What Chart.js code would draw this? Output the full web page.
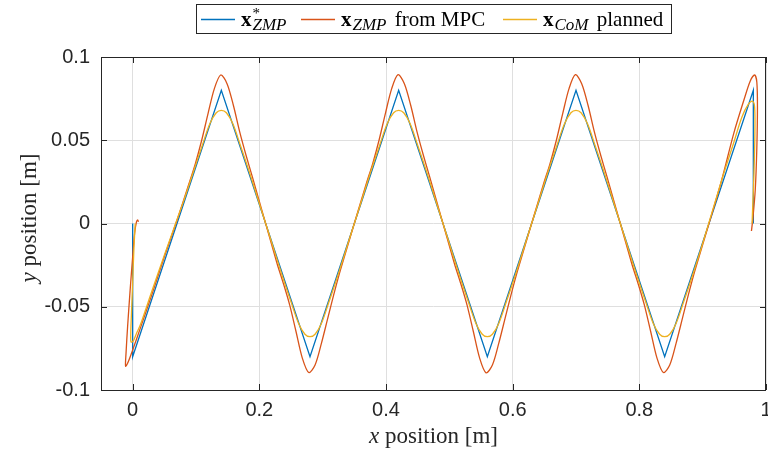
<!DOCTYPE html>
<html>
<head>
<meta charset="utf-8">
<script src="https://cdn.jsdelivr.net/npm/chart.js@4"></script>
<style>
  html, body { margin: 0; background: #fff; }
  canvas { display: block; }
</style>
</head>
<body>
<canvas id="zmpChart" width="768" height="455"></canvas>
<script>
// reference ZMP: footstep centres, start and end at the mid line
const refX = [0, 0, 0.14, 0.28, 0.42, 0.56, 0.70, 0.84, 0.98, 0.98];
const refY = [0, -0.08, 0.08, -0.08, 0.08, -0.08, 0.08, -0.08, 0.08, 0];

// ZMP coming out of the MPC
const mpcX = [
  0.009, 0.008, 0.006, 0.003, 0.0, -0.004, -0.008, -0.0105, -0.0112, -0.008, 0.0, 0.012, 0.03, 0.05, 0.07,
  0.089, 0.099, 0.109, 0.119, 0.129, 0.139, 0.149, 0.159, 0.169, 0.179, 0.189,
  0.228, 0.238, 0.248, 0.258, 0.268, 0.278, 0.288, 0.298, 0.308, 0.318, 0.328,
  0.369, 0.379, 0.389, 0.399, 0.409, 0.419, 0.429, 0.439, 0.449, 0.459, 0.469,
  0.508, 0.518, 0.528, 0.538, 0.548, 0.558, 0.568, 0.578, 0.588, 0.598, 0.608,
  0.649, 0.659, 0.669, 0.679, 0.689, 0.699, 0.709, 0.719, 0.729, 0.739, 0.749,
  0.788, 0.798, 0.808, 0.818, 0.828, 0.838, 0.848, 0.858, 0.868, 0.878, 0.888,
  0.91, 0.93, 0.949, 0.965, 0.975, 0.982, 0.9855, 0.9865, 0.9855, 0.983, 0.979, 0.977
];
const mpcY = [
  0.001, 0.0022, 0.001, -0.006, -0.02, -0.04, -0.062, -0.078, -0.0857, -0.084, -0.076, -0.063, -0.043, -0.020, 0.002,
  0.024, 0.036, 0.050, 0.066, 0.081, 0.0892, 0.084, 0.071, 0.055, 0.041, 0.028,
  -0.024, -0.036, -0.049, -0.065, -0.081, -0.0895, -0.085, -0.072, -0.057, -0.042, -0.028,
  0.024, 0.036, 0.050, 0.066, 0.081, 0.0894, 0.084, 0.071, 0.055, 0.041, 0.028,
  -0.024, -0.036, -0.049, -0.065, -0.081, -0.0897, -0.085, -0.072, -0.057, -0.042, -0.028,
  0.024, 0.036, 0.050, 0.066, 0.081, 0.0894, 0.084, 0.071, 0.055, 0.041, 0.028,
  -0.024, -0.036, -0.049, -0.065, -0.081, -0.0895, -0.085, -0.072, -0.057, -0.042, -0.028,
  0.0, 0.026, 0.054, 0.074, 0.0855, 0.0892, 0.085, 0.070, 0.045, 0.020, 0.002, -0.0045
];

// planned CoM trajectory
const comX = [
  0.004, 0.002, 0.0, -0.002, -0.003, -0.0025, 0.001, 0.006, 0.012, 0.03, 0.05,
  0.08, 0.095, 0.11, 0.122, 0.132, 0.14, 0.148, 0.158, 0.17, 0.185, 0.20,
  0.22, 0.235, 0.25, 0.262, 0.272, 0.28, 0.288, 0.298, 0.31, 0.325, 0.34,
  0.36, 0.375, 0.39, 0.402, 0.412, 0.42, 0.428, 0.438, 0.45, 0.465, 0.48,
  0.50, 0.515, 0.53, 0.542, 0.552, 0.56, 0.568, 0.578, 0.59, 0.605, 0.62,
  0.64, 0.655, 0.67, 0.682, 0.692, 0.70, 0.708, 0.718, 0.73, 0.745, 0.76,
  0.78, 0.795, 0.81, 0.822, 0.832, 0.84, 0.848, 0.858, 0.87, 0.885, 0.90,
  0.93, 0.949, 0.962, 0.972, 0.979, 0.982, 0.9825, 0.981, 0.979, 0.978
];
const comY = [
  0.0, -0.015, -0.035, -0.055, -0.066, -0.0712, -0.0705, -0.066, -0.061, -0.041, -0.019,
  0.013, 0.030, 0.047, 0.060, 0.0665, 0.068, 0.0665, 0.060, 0.047, 0.030, 0.012,
  -0.012, -0.030, -0.047, -0.060, -0.0665, -0.068, -0.0665, -0.060, -0.047, -0.030, -0.012,
  0.012, 0.030, 0.047, 0.060, 0.0665, 0.068, 0.0665, 0.060, 0.047, 0.030, 0.012,
  -0.012, -0.030, -0.047, -0.060, -0.0665, -0.068, -0.0665, -0.060, -0.047, -0.030, -0.012,
  0.012, 0.030, 0.047, 0.060, 0.0665, 0.068, 0.0665, 0.060, 0.047, 0.030, 0.012,
  -0.012, -0.030, -0.047, -0.060, -0.0665, -0.068, -0.0665, -0.060, -0.047, -0.030, -0.012,
  0.026, 0.0485, 0.064, 0.0715, 0.0734, 0.070, 0.055, 0.030, 0.010, 0.0
];

const xTicks = [0, 0.2, 0.4, 0.6, 0.8, 1];
const yTicks = [-0.1, -0.05, 0, 0.05, 0.1];

const blue = '#0072BD';
const orange = '#D95319';
const yellow = '#EDB120';
const axisColor = '#262626';
const serif = '"Liberation Serif", "DejaVu Serif", serif';

function pts(xs, ys) {
  return xs.map((x, i) => ({ x: x, y: ys[i] }));
}

// box, inward ticks, axis titles and the legend, MATLAB style
const decorations = {
  id: 'decorations',
  afterDraw(chart) {
    const { ctx, chartArea: a, scales } = chart;
    ctx.save();
    ctx.strokeStyle = axisColor;
    ctx.lineWidth = 1;
    ctx.beginPath();
    xTicks.forEach(v => {
      const px = Math.round(scales.x.getPixelForValue(v)) + 0.5;
      ctx.moveTo(px, a.bottom); ctx.lineTo(px, a.bottom - 6);
      ctx.moveTo(px, a.top); ctx.lineTo(px, a.top + 6);
    });
    yTicks.forEach(v => {
      const py = Math.round(scales.y.getPixelForValue(v)) + 0.5;
      ctx.moveTo(a.left, py); ctx.lineTo(a.left + 6, py);
      ctx.moveTo(a.right, py); ctx.lineTo(a.right - 6, py);
    });
    ctx.stroke();
    ctx.strokeRect(Math.round(a.left) + 0.5, Math.round(a.top) + 0.5,
      Math.round(a.right - a.left) - 1, Math.round(a.bottom - a.top));

    // axis titles: italic variable, upright rest
    ctx.fillStyle = axisColor;
    ctx.textBaseline = 'alphabetic';
    const titleSize = 23;
    function title(v, rest, cx, base) {
      ctx.font = 'italic ' + titleSize + 'px ' + serif;
      const w1 = ctx.measureText(v).width;
      ctx.font = titleSize + 'px ' + serif;
      const w2 = ctx.measureText(rest).width;
      const x = cx - (w1 + w2) / 2;
      ctx.font = 'italic ' + titleSize + 'px ' + serif;
      ctx.fillText(v, x, base);
      ctx.font = titleSize + 'px ' + serif;
      ctx.fillText(rest, x + w1, base);
    }
    title('x', ' position [m]', (a.left + a.right) / 2, 443);
    ctx.save();
    ctx.translate(36, 218);
    ctx.rotate(-Math.PI / 2);
    title('y', ' position [m]', 0, 0);
    ctx.restore();

    // legend
    ctx.fillStyle = '#fff';
    ctx.fillRect(197, 5, 474, 28);
    ctx.strokeStyle = axisColor;
    ctx.strokeRect(196.5, 4.5, 475, 29);
    function entry(x, color, sup, sub, rest) {
      const y = 19.5;
      const base = 26;
      ctx.strokeStyle = color;
      ctx.lineWidth = 1.3;
      ctx.beginPath(); ctx.moveTo(x, y); ctx.lineTo(x + 34, y); ctx.stroke();
      let tx = x + 40;
      ctx.fillStyle = '#000';
      ctx.font = 'bold 21px ' + serif;
      ctx.fillText('x', tx, base);
      tx += ctx.measureText('x').width + 1;
      let w = 0;
      if (sup) {
        ctx.font = '15px ' + serif;
        ctx.fillText(sup, tx, base - 8);
        w = ctx.measureText(sup).width;
      }
      ctx.font = 'italic 17px ' + serif;
      ctx.fillText(sub, tx, base + 4);
      w = Math.max(w, ctx.measureText(sub).width);
      tx += w;
      if (rest) {
        ctx.font = '21px ' + serif;
        ctx.fillText(rest, tx + 3, base);
      }
    }
    entry(201, blue, '*', 'ZMP', '');
    entry(301, orange, '', 'ZMP', ' from MPC');
    entry(503, yellow, '', 'CoM', ' planned');
    ctx.restore();
  }
};

const tickFont = { family: '"Liberation Sans", Arial, sans-serif', size: 20 };

new Chart(document.getElementById('zmpChart'), {
  type: 'scatter',
  data: {
    datasets: [
      {
        label: 'ZMP reference',
        data: pts(refX, refY),
        borderColor: blue,
        borderWidth: 1.3,
        showLine: true,
        tension: 0,
        pointRadius: 0,
        order: 2
      },
      {
        label: 'ZMP from MPC',
        data: pts(mpcX, mpcY),
        borderColor: orange,
        borderWidth: 1.3,
        showLine: true,
        tension: 0.3,
        pointRadius: 0,
        order: 1
      },
      {
        label: 'CoM planned',
        data: pts(comX, comY),
        borderColor: yellow,
        borderWidth: 1.3,
        showLine: true,
        tension: 0.35,
        pointRadius: 0,
        order: 0
      }
    ]
  },
  options: {
    responsive: false,
    animation: false,
    devicePixelRatio: 1,
    layout: { padding: { top: 57, right: 2, left: 0, bottom: 0 } },
    plugins: {
      legend: { display: false },
      tooltip: { enabled: false }
    },
    scales: {
      x: {
        type: 'linear',
        min: -0.05,
        max: 1,
        afterBuildTicks: axis => { axis.ticks = xTicks.map(v => ({ value: v })); },
        afterFit: axis => { axis.height = 65; axis.paddingLeft = 0; axis.paddingRight = 0; },
        grid: { color: '#dfdfdf', drawTicks: false },
        border: { display: false },
        ticks: { font: tickFont, color: axisColor, padding: 8, maxRotation: 0, callback: v => String(v) }
      },
      y: {
        min: -0.1,
        max: 0.1,
        afterBuildTicks: axis => { axis.ticks = yTicks.map(v => ({ value: v })); },
        afterFit: axis => { axis.width = 101; axis.paddingTop = 0; axis.paddingBottom = 0; },
        grid: { color: '#dfdfdf', drawTicks: false },
        border: { display: false },
        ticks: { font: tickFont, color: axisColor, padding: 11, callback: v => String(v) }
      }
    }
  },
  plugins: [decorations]
});
</script>
</body>
</html>
